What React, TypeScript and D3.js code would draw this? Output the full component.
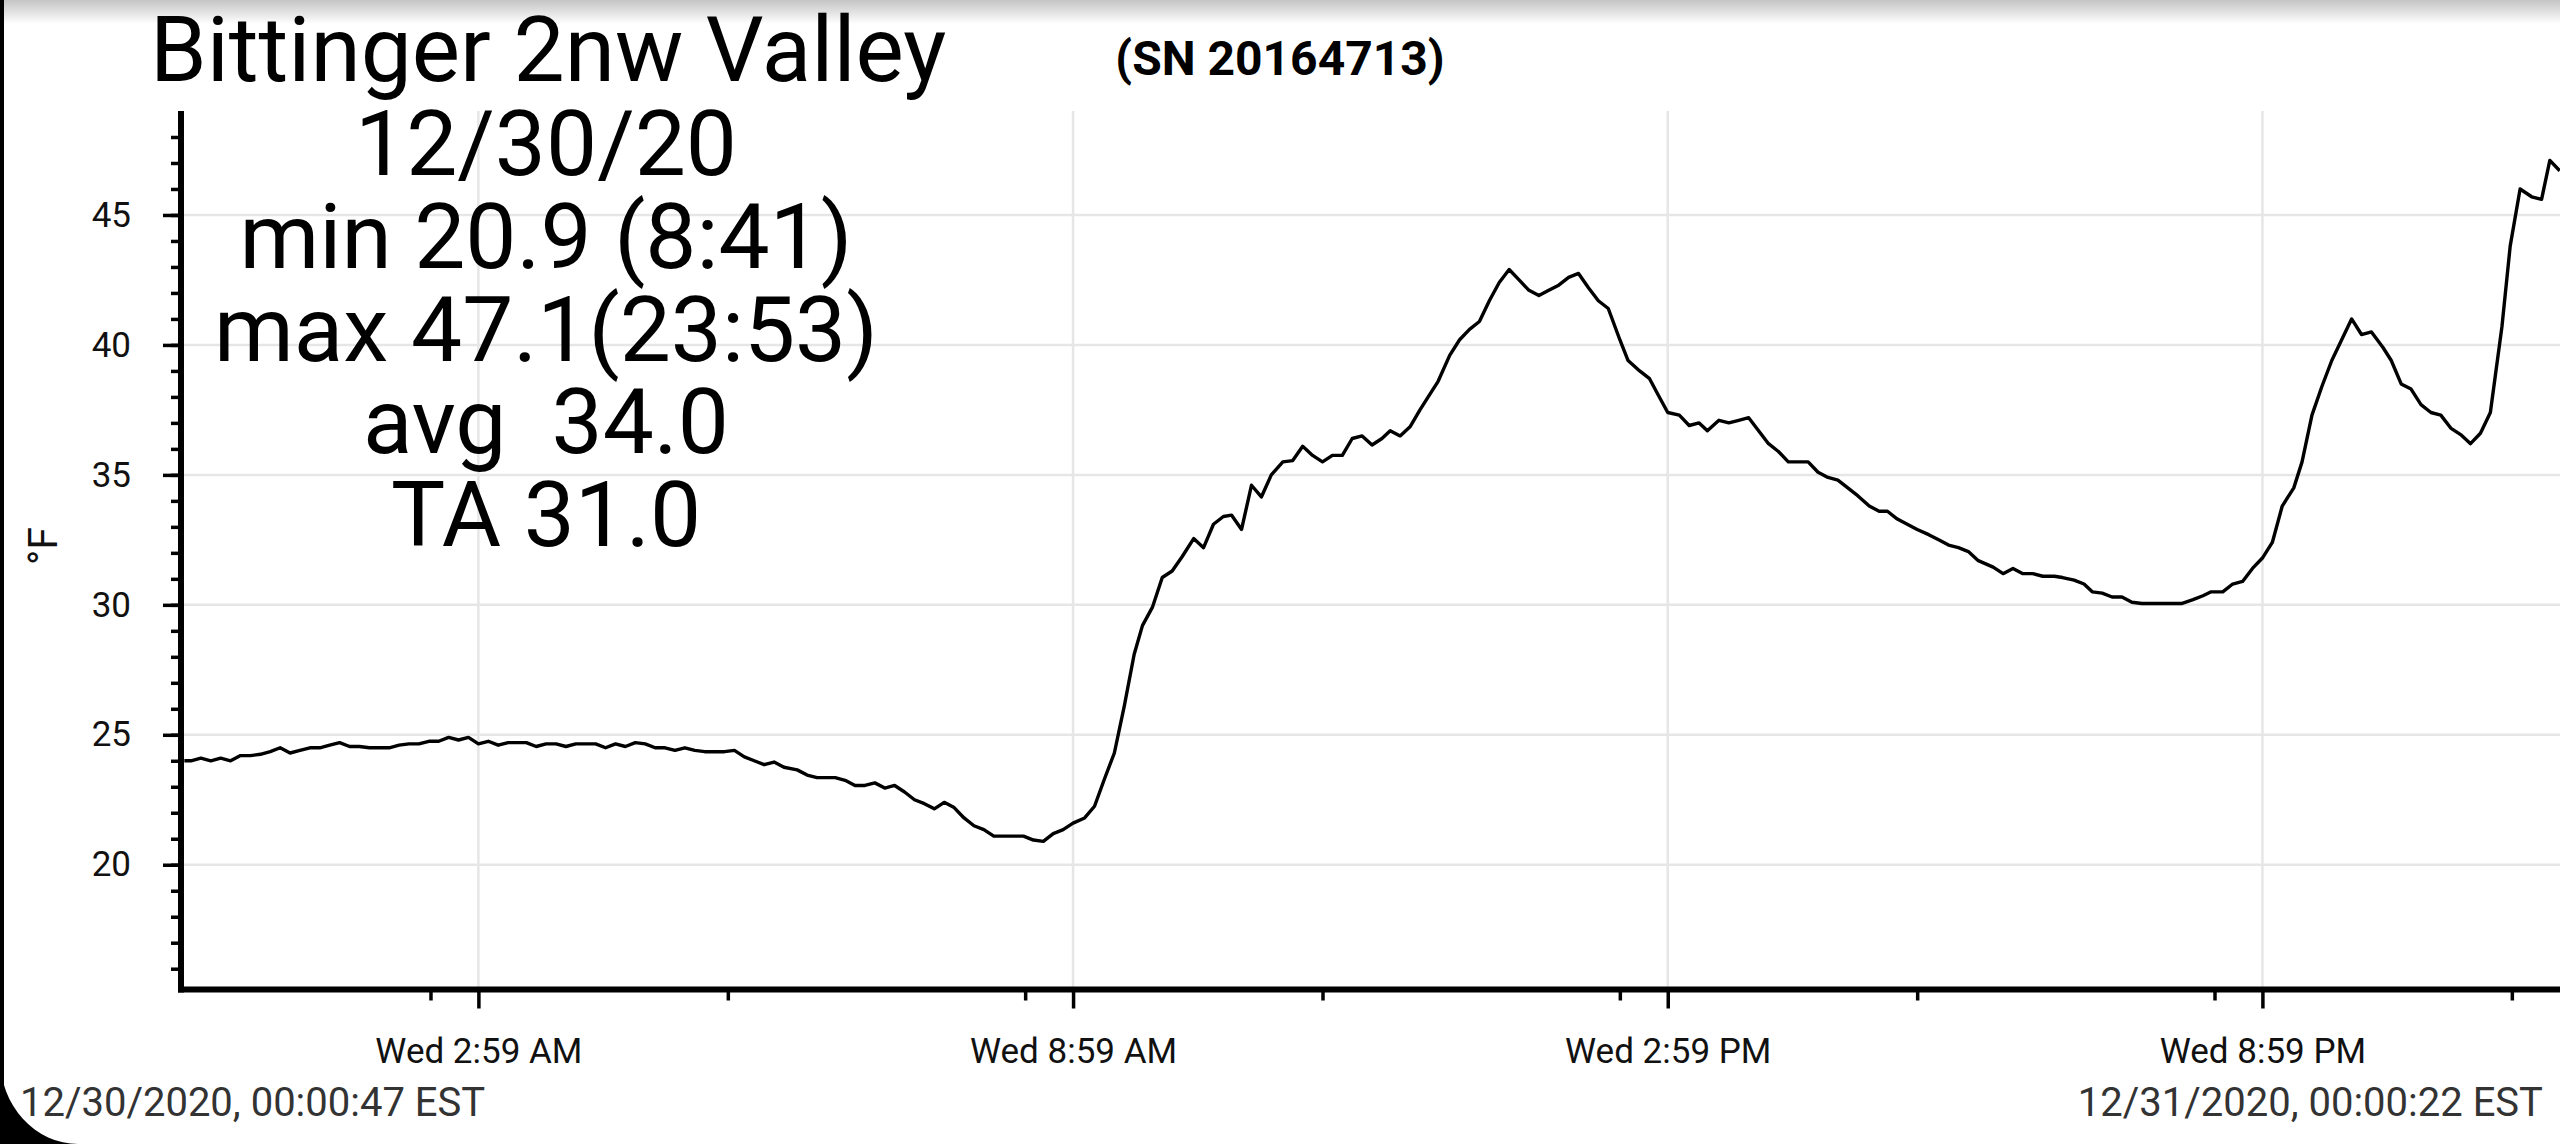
import React, { useEffect, useRef } from 'react';
import * as d3 from 'd3';

// logger readings: minutes after midnight 12/30/2020, temperature in °F
const minutes = [
  1, 5, 11, 17, 23, 29, 35, 41, 47, 53, 59, 65, 71, 77, 83, 89, 95, 101, 107, 113,
  119, 125, 131, 137, 143, 149, 155, 161, 167, 173, 179, 185, 191, 197, 202, 208, 214, 220, 226, 232,
  238, 244, 250, 256, 262, 268, 274, 280, 286, 292, 298, 304, 310, 316, 322, 328, 334, 340, 346, 352,
  358, 364, 372, 378, 384, 389, 395, 401, 407, 413, 419, 425, 431, 437, 443, 449, 455, 461, 467, 473,
  479, 485, 491, 498, 504, 509, 515, 521, 527, 533, 539, 546, 552, 558, 564, 570, 576, 581, 587, 593,
  599, 605, 612, 618, 624, 630, 635, 641, 647, 653, 659, 666, 672, 678, 684, 690, 696, 702, 708, 714,
  720, 726, 731, 737, 743, 749, 754, 760, 767, 773, 779, 785, 791, 797, 803, 809, 815, 821, 827, 833,
  839, 845, 851, 857, 863, 870, 875, 882, 888, 893, 899, 906, 912, 918, 923, 930, 936, 942, 948, 954,
  960, 966, 972, 978, 984, 990, 996, 1002, 1008, 1014, 1021, 1027, 1032, 1038, 1044, 1050, 1057, 1063, 1069, 1075,
  1081, 1087, 1096, 1102, 1108, 1114, 1120, 1126, 1133, 1138, 1145, 1151, 1156, 1162, 1168, 1174, 1180, 1186, 1192, 1199,
  1205, 1210, 1217, 1223, 1228, 1235, 1241, 1247, 1253, 1259, 1265, 1271, 1278, 1283, 1289, 1295, 1301, 1307, 1313, 1319,
  1325, 1332, 1337, 1343, 1349, 1355, 1361, 1367, 1373, 1379, 1385, 1391, 1397, 1404, 1409, 1415, 1422, 1428, 1433, 1439,
];
const tempF = [
  24.0, 24.0, 24.1, 24.0, 24.1, 24.0, 24.2, 24.2, 24.25, 24.35, 24.5, 24.3, 24.4, 24.5, 24.5, 24.6, 24.7, 24.55, 24.55, 24.5,
  24.5, 24.5, 24.6, 24.65, 24.65, 24.75, 24.75, 24.9, 24.8, 24.9, 24.65, 24.75, 24.6, 24.7, 24.7, 24.7, 24.55, 24.65, 24.65, 24.55,
  24.65, 24.65, 24.65, 24.5, 24.65, 24.55, 24.7, 24.65, 24.5, 24.5, 24.4, 24.5, 24.4, 24.35, 24.35, 24.35, 24.4, 24.15, 24.0, 23.85,
  23.95, 23.75, 23.65, 23.45, 23.35, 23.35, 23.35, 23.25, 23.05, 23.05, 23.15, 22.95, 23.05, 22.8, 22.5, 22.35, 22.15, 22.4, 22.2, 21.8,
  21.5, 21.35, 21.1, 21.1, 21.1, 21.1, 20.95, 20.9, 21.2, 21.35, 21.6, 21.8, 22.25, 23.3, 24.3, 26.1, 28.1, 29.2, 29.9, 31.05,
  31.3, 31.85, 32.55, 32.2, 33.1, 33.4, 33.45, 32.9, 34.6, 34.15, 35.0, 35.5, 35.55, 36.1, 35.75, 35.5, 35.75, 35.75, 36.4, 36.5,
  36.15, 36.4, 36.7, 36.5, 36.85, 37.5, 38.0, 38.6, 39.6, 40.2, 40.6, 40.9, 41.7, 42.4, 42.9, 42.5, 42.1, 41.9, 42.1, 42.3,
  42.6, 42.75, 42.2, 41.7, 41.4, 40.2, 39.4, 39.0, 38.7, 38.1, 37.4, 37.3, 36.9, 37.0, 36.7, 37.1, 37.0, 37.1, 37.2, 36.7,
  36.2, 35.9, 35.5, 35.5, 35.5, 35.1, 34.9, 34.8, 34.5, 34.2, 33.8, 33.6, 33.6, 33.3, 33.1, 32.9, 32.7, 32.5, 32.3, 32.2,
  32.05, 31.7, 31.45, 31.2, 31.4, 31.2, 31.2, 31.1, 31.1, 31.05, 30.95, 30.8, 30.5, 30.45, 30.3, 30.3, 30.1, 30.05, 30.05, 30.05,
  30.05, 30.05, 30.2, 30.35, 30.5, 30.5, 30.8, 30.9, 31.4, 31.8, 32.4, 33.8, 34.5, 35.5, 37.3, 38.4, 39.4, 40.2, 41.0, 40.4,
  40.5, 39.9, 39.4, 38.5, 38.3, 37.7, 37.4, 37.3, 36.8, 36.55, 36.2, 36.6, 37.4, 40.7, 43.8, 46.0, 45.7, 45.6, 47.1, 46.7,
];

const yMajorTicks = [20, 25, 30, 35, 40, 45];
const yMinorTicks = d3.range(16, 49);
const xMajorTicks = ['02:59', '08:59', '14:59', '20:59'];
const xMinorTicks = ['02:30', '05:30', '08:30', '11:30', '14:30', '17:30', '20:30', '23:30'];

const title = 'Bittinger 2nw Valley';
const serial = '(SN 20164713)';
const statLines = ['12/30/20', 'min 20.9 (8:41)', 'max 47.1(23:53)', 'avg  34.0', 'TA 31.0'];
const startStamp = '12/30/2020, 00:00:47 EST';
const endStamp = '12/31/2020, 00:00:22 EST';
const unitLabel = '°F';

const day = new Date(2020, 11, 30);
const atMinute = (m: number) => new Date(day.getTime() + m * 60000);
const atClock = (s: string) => {
  const [h, m] = s.split(':').map(Number);
  return atMinute(h * 60 + m);
};

const W = 2560;
const H = 1144;
const FONT = 'Roboto, "Noto Sans", sans-serif';

const TempChart: React.FC = () => {
  const ref = useRef<SVGSVGElement>(null);

  useEffect(() => {
    const svg = d3.select(ref.current);
    svg.selectAll('*').remove();

    const left = 181;
    const bottom = 989.5;
    const top = 111;

    const x = d3.scaleTime()
      .domain([new Date(2020, 11, 30, 0, 0, 47), new Date(2020, 11, 31, 0, 0, 22)])
      .range([184, 2562]);
    const y = d3.scaleLinear().domain([15.2, 49]).range([bottom, top]);

    // background bits of the phone screenshot
    const defs = svg.append('defs');
    const grad = defs.append('linearGradient').attr('id', 'topShade')
      .attr('x1', 0).attr('y1', 0).attr('x2', 0).attr('y2', 1);
    grad.append('stop').attr('offset', '0%').attr('stop-color', '#c4c4c4');
    grad.append('stop').attr('offset', '100%').attr('stop-color', '#ffffff');
    svg.append('rect').attr('width', W).attr('height', H).attr('fill', '#fff');
    svg.append('rect').attr('width', W).attr('height', 24).attr('fill', 'url(#topShade)');

    // grid
    const grid = svg.append('g').attr('stroke', '#e6e6e6').attr('stroke-width', 2.5);
    grid.selectAll('.hg').data(yMajorTicks).enter().append('line')
      .attr('x1', left).attr('x2', W)
      .attr('y1', d => y(d)).attr('y2', d => y(d));
    grid.selectAll('.vg').data(xMajorTicks).enter().append('line')
      .attr('x1', d => x(atClock(d))).attr('x2', d => x(atClock(d)))
      .attr('y1', top).attr('y2', bottom);

    // y axis
    const yMinor = svg.append('g').attr('transform', `translate(${left},0)`)
      .call(d3.axisLeft(y).tickValues(yMinorTicks).tickSize(10).tickSizeOuter(0).tickFormat(() => ''));
    yMinor.select('.domain').remove();
    const yMajor = svg.append('g').attr('transform', `translate(${left},0)`)
      .call(d3.axisLeft(y).tickValues(yMajorTicks).tickSize(18).tickPadding(32).tickSizeOuter(0));
    yMajor.select('.domain').remove();

    // x axis
    const xMinor = svg.append('g').attr('transform', `translate(0,${bottom})`)
      .call(d3.axisBottom(x).tickValues(xMinorTicks.map(atClock)).tickSize(11).tickSizeOuter(0).tickFormat(() => ''));
    xMinor.select('.domain').remove();
    const xMajor = svg.append('g').attr('transform', `translate(0,${bottom})`)
      .call(d3.axisBottom(x).tickValues(xMajorTicks.map(atClock)).tickSize(19).tickPadding(30).tickSizeOuter(0)
        .tickFormat(d => d3.timeFormat('%a %-I:%M %p')(d as Date)));
    xMajor.select('.domain').remove();

    svg.selectAll('.tick line').attr('stroke', '#000').attr('stroke-width', 3.5);
    svg.selectAll('.tick text').attr('fill', '#111').style('font-family', FONT).style('font-size', '35px');

    svg.append('line').attr('x1', left).attr('x2', left).attr('y1', top).attr('y2', bottom + 3)
      .attr('stroke', '#000').attr('stroke-width', 6);
    svg.append('line').attr('x1', left - 3).attr('x2', W).attr('y1', bottom).attr('y2', bottom)
      .attr('stroke', '#000').attr('stroke-width', 6);

    // temperature trace
    const line = d3.line<number>()
      .x((_, i) => x(atMinute(minutes[i])))
      .y(d => y(d));
    svg.append('path').datum(tempF)
      .attr('d', line)
      .attr('fill', 'none')
      .attr('stroke', '#000')
      .attr('stroke-width', 3.4)
      .attr('stroke-linejoin', 'round');

    // texts
    svg.append('text').text(unitLabel)
      .attr('transform', 'translate(57,546) rotate(-90)')
      .attr('text-anchor', 'middle')
      .style('font-family', FONT).style('font-size', '41px').attr('fill', '#111');

    svg.append('text').text(title)
      .attr('x', 150).attr('y', 81)
      .style('font-family', FONT).style('font-size', '91px').attr('fill', '#000');

    svg.append('text').text(serial)
      .attr('x', 1280).attr('y', 75).attr('text-anchor', 'middle')
      .style('font-family', FONT).style('font-size', '48px').style('font-weight', 700).attr('fill', '#000');

    svg.append('g').selectAll('text').data(statLines).enter().append('text')
      .text(d => d)
      .attr('x', 546).attr('y', (_, i) => 175 + i * 92.8)
      .attr('text-anchor', 'middle')
      .style('white-space', 'pre')
      .style('font-family', FONT).style('font-size', '91px').attr('fill', '#000');

    svg.append('text').text(startStamp)
      .attr('x', 20).attr('y', 1116)
      .style('font-family', FONT).style('font-size', '40px').attr('fill', '#333');
    svg.append('text').text(endStamp)
      .attr('x', 2543).attr('y', 1116).attr('text-anchor', 'end')
      .style('font-family', FONT).style('font-size', '40px').attr('fill', '#333');

    // screen frame: left edge and rounded bottom-left corner
    svg.append('rect').attr('width', 4).attr('height', H).attr('fill', '#000');
    svg.append('path').attr('d', `M0,1058 A78,86 0 0 0 78,${H} L0,${H} Z`).attr('fill', '#000');
  }, []);

  return <svg ref={ref} width={W} height={H} style={{ position: 'absolute', left: 0, top: 0, display: 'block' }} />;
};

export default function App() {
  return <TempChart />;
}
